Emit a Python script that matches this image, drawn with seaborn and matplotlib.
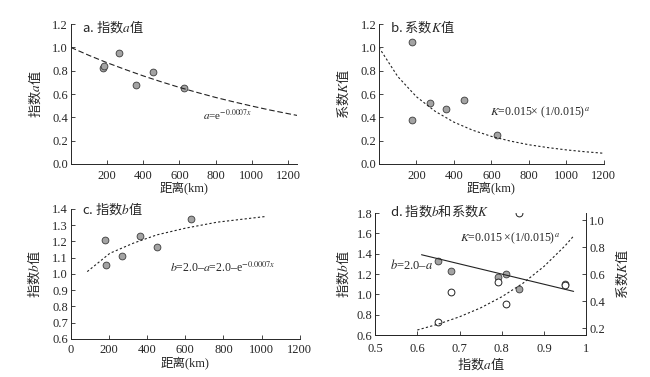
import seaborn as sns
import numpy as np
import matplotlib.pyplot as plt

dist = [180, 182, 268, 362, 452, 628]
a_obs = [0.82, 0.84, 0.95, 0.68, 0.79, 0.65]
k_dist = [178, 178, 270, 360, 452, 632]
k_obs = [1.05, 0.38, 0.52, 0.47, 0.55, 0.25]
b_dist = [180, 183, 270, 362, 452, 628]
b_obs = [1.21, 1.055, 1.11, 1.235, 1.165, 1.335]

# fitted curves
curve_x = [0, 100, 200, 300, 400, 500, 600, 700, 800, 900, 1000, 1100, 1200, 1250]
curve_a = [1.0, 0.932, 0.869, 0.811, 0.756, 0.705, 0.657, 0.613, 0.571, 0.533, 0.497, 0.463, 0.432, 0.417]
curve_kx = [0, 100, 200, 300, 400, 500, 600, 700, 800, 900, 1000, 1100, 1200]
curve_k = [1.0, 0.751, 0.577, 0.452, 0.359, 0.290, 0.237, 0.197, 0.165, 0.141, 0.121, 0.105, 0.092]
curve_bx = [86, 205, 328, 451, 600, 767, 1021]
curve_b = [1.014, 1.127, 1.189, 1.24, 1.281, 1.318, 1.353]

# panel d
d_a = [0.65, 0.68, 0.79, 0.81, 0.84, 0.95]
d_b = [1.33, 1.235, 1.17, 1.205, 1.055, 1.105]
d_ka = [0.65, 0.68, 0.79, 0.81, 0.84, 0.95]
d_k = [0.247, 0.464, 0.543, 0.376, 1.05, 0.519]
line_a = [0.61, 0.97]
line_b = [1.39, 1.03]
kcurve_a = [0.60, 0.65, 0.70, 0.75, 0.80, 0.85, 0.90, 0.95, 0.97]
kcurve_k = [0.186, 0.230, 0.284, 0.350, 0.432, 0.532, 0.657, 0.810, 0.882]

sns.set_style("ticks")
plt.rcParams['font.family'] = ['Liberation Serif', 'Noto Sans CJK SC']
plt.rcParams['mathtext.fontset'] = 'stix'
plt.rcParams['xtick.direction'] = 'in'
plt.rcParams['ytick.direction'] = 'in'
plt.rcParams['xtick.major.size'] = 3
plt.rcParams['ytick.major.size'] = 3
plt.rcParams['xtick.major.width'] = 0.6
plt.rcParams['ytick.major.width'] = 0.6
plt.rcParams['axes.linewidth'] = 0.7

CJK = 'Noto Sans CJK SC'
fs = 9
gray = dict(color='#a3a3a3', edgecolor='#3a3a3a', linewidth=0.6, s=24)
opened = dict(color='white', edgecolor='#222222', linewidth=0.7, s=24)

fig = plt.figure(figsize=(6.5, 3.77), dpi=100)
ax_a = fig.add_axes([0.109, 0.565, 0.348, 0.371])
ax_b = fig.add_axes([0.583, 0.565, 0.346, 0.371])
ax_c = fig.add_axes([0.109, 0.101, 0.352, 0.345])
ax_d = fig.add_axes([0.577, 0.111, 0.325, 0.324])

for ax in [ax_a, ax_b, ax_c, ax_d]:
    ax.spines['top'].set_visible(False)
    ax.spines['right'].set_visible(False)
    ax.tick_params(labelsize=fs, pad=2)
    ax.tick_params(axis='x', pad=4)

# a
sns.lineplot(x=curve_x, y=curve_a, ax=ax_a, color='#222222', lw=0.8, linestyle=(0, (5, 2.5)))
sns.scatterplot(x=dist, y=a_obs, ax=ax_a, **gray)
ax_a.set_xlim(0, 1250)
ax_a.set_ylim(0, 1.2)
ax_a.set_xticks([200, 400, 600, 800, 1000, 1200])
ax_a.set_yticks(np.arange(0, 1.21, 0.2))
ax_a.yaxis.set_major_formatter(plt.FormatStrFormatter('%.1f'))
ax_a.set_xlabel('距离(km)', fontsize=9, labelpad=0)
ax_a.set_ylabel('指数$a$值', fontsize=9.5, family=CJK, labelpad=7)
ax_a.text(0.05, 0.985, 'a. 指数$a$值', transform=ax_a.transAxes, fontsize=9.5, family=CJK, va='center')
ax_a.text(730, 0.42, '$a$=e$^{-0.0007x}$', fontsize=8, va='center')

# b
sns.lineplot(x=curve_kx, y=curve_k, ax=ax_b, color='#222222', lw=0.8, linestyle=(0, (2, 2)))
sns.scatterplot(x=k_dist, y=k_obs, ax=ax_b, **gray)
ax_b.set_xlim(0, 1200)
ax_b.set_ylim(0, 1.2)
ax_b.set_xticks([200, 400, 600, 800, 1000, 1200])
ax_b.set_yticks(np.arange(0, 1.21, 0.2))
ax_b.yaxis.set_major_formatter(plt.FormatStrFormatter('%.1f'))
ax_b.set_xlabel('距离(km)', fontsize=9, labelpad=0)
ax_b.set_ylabel('系数$K$值', fontsize=9.5, family=CJK, labelpad=7)
ax_b.text(0.05, 0.985, 'b. 系数$K$值', transform=ax_b.transAxes, fontsize=9.5, family=CJK, va='center')
ax_b.text(592, 0.44, '$K$=0.015× (1/0.015)$^{a}$', fontsize=8.5, va='center')

# c
sns.lineplot(x=curve_bx, y=curve_b, ax=ax_c, color='#222222', lw=0.8, linestyle=(0, (2, 2)))
sns.scatterplot(x=b_dist, y=b_obs, ax=ax_c, **gray)
ax_c.set_xlim(0, 1200)
ax_c.set_ylim(0.6, 1.4)
ax_c.set_xticks([0, 200, 400, 600, 800, 1000, 1200])
ax_c.set_yticks(np.arange(0.6, 1.41, 0.1))
ax_c.yaxis.set_major_formatter(plt.FormatStrFormatter('%.1f'))
ax_c.set_xlabel('距离(km)', fontsize=9, labelpad=0)
ax_c.set_ylabel('指数$b$值', fontsize=9.5, family=CJK, labelpad=7)
ax_c.text(0.048, 1.0, 'c. 指数$b$值', transform=ax_c.transAxes, fontsize=9.5, family=CJK, va='center')
ax_c.text(519, 1.04, '$b$=2.0–$a$=2.0–e$^{-0.0007x}$', fontsize=8.5, va='center')

# d
ax_d2 = ax_d.twinx()
ax_d2.spines['top'].set_visible(False)
ax_d2.tick_params(labelsize=fs, pad=2)
sns.lineplot(x=line_a, y=line_b, ax=ax_d, color='#222222', lw=0.8)
sns.scatterplot(x=d_a, y=d_b, ax=ax_d, **gray)
sns.lineplot(x=kcurve_a, y=kcurve_k, ax=ax_d2, color='#222222', lw=0.8, linestyle=(0, (2, 2)))
sns.scatterplot(x=d_ka, y=d_k, ax=ax_d2, **opened)
ax_d.set_xlim(0.5, 1.0)
ax_d.set_ylim(0.6, 1.8)
ax_d2.set_ylim(0.148, 1.052)
ax_d.set_xticks([0.5, 0.6, 0.7, 0.8, 0.9, 1.0])
ax_d.set_xticklabels(['0.5', '0.6', '0.7', '0.8', '0.9', '1'])
ax_d.tick_params(axis='x', pad=6)
ax_d.set_yticks(np.arange(0.6, 1.81, 0.2))
ax_d.yaxis.set_major_formatter(plt.FormatStrFormatter('%.1f'))
ax_d2.set_yticks([0.2, 0.4, 0.6, 0.8, 1.0])
ax_d2.yaxis.set_major_formatter(plt.FormatStrFormatter('%.1f'))
ax_d.set_xlabel('指数$a$值', fontsize=9.5, family=CJK, labelpad=0)
ax_d.set_ylabel('指数$b$值', fontsize=9.5, family=CJK, labelpad=4)
ax_d2.set_ylabel('系数$K$值', fontsize=9.5, family=CJK, labelpad=6)
ax_d.text(0.071, 1.02, 'd. 指数$b$和系数$K$', transform=ax_d.transAxes, fontsize=9.5, family=CJK, va='center')
ax_d.text(0.70, 1.55, '$K$=0.015 ×(1/0.015)$^{a}$', fontsize=8.5, va='center')
ax_d.text(0.536, 1.29, '$b$=2.0–$a$', fontsize=9, va='center')

fig.savefig('out.png', dpi=100)
